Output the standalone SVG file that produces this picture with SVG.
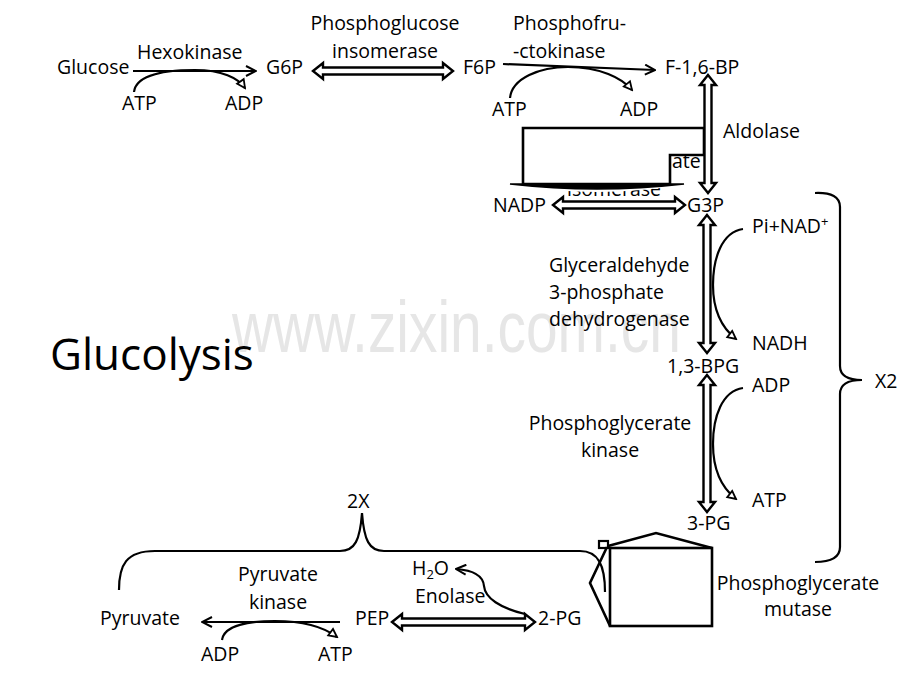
<svg xmlns="http://www.w3.org/2000/svg" width="920" height="690" viewBox="0 0 920 690">
<style>
text{font-family:"Open Sans","Liberation Sans",sans-serif;font-size:19.5px;fill:#000}
.c{text-anchor:middle}
.ln{fill:none;stroke:#000;stroke-width:2.2}
.da{fill:#fff;stroke:#000;stroke-width:2.4;stroke-linejoin:miter}
.sh{fill:#fff;stroke:#000;stroke-width:2.6}
.wm{font-family:"Liberation Sans",sans-serif;font-size:72px;fill:#e6e6e6}
</style>
<defs>
<marker id="open" viewBox="0 0 12 12" refX="11" refY="6" markerWidth="12" markerHeight="12" markerUnits="userSpaceOnUse" orient="auto">
<path d="M1,1 L11,6 L1,11" fill="none" stroke="#000" stroke-width="2"/>
</marker>
<marker id="tri" viewBox="0 0 12 12" refX="10" refY="6" markerWidth="12" markerHeight="12" markerUnits="userSpaceOnUse" orient="auto">
<path d="M2,2 L10,6 L2,10 Z" fill="#fff" stroke="#000" stroke-width="1.8"/>
</marker>
</defs>
<rect width="920" height="690" fill="#fff"/>
<text class="wm" transform="translate(232,352) scale(0.79,1)">www.zixin.com.cn</text>

<g id="title"><text x="50" y="370" style="font-size:44px">Glucolysis</text></g>

<g id="hidden-label"><text x="672" y="168">ate</text><text x="567" y="196">isomerase</text></g>
<g id="cover-box">
<polygon class="sh" points="523,128 704,128 704,155 670,155 670,184 523,184"/>
<path d="M512,185 Q597,199 682,185 Z" fill="#fff"/>
<path d="M510,184 L684,184 Q597,194 510,184 Z" fill="#000" stroke="#000" stroke-width="1.5"/>
</g>

<g id="connectors">
<path class="ln" d="M133,71 L256,71" marker-end="url(#open)"/>
<path class="ln" d="M134,92 C136,74 168,70 195,70 C222,70 238,78 245,88" marker-end="url(#tri)"/>
<polygon class="da" points="313,71 323,63 323,67.5 443,67.5 443,63 453,71 443,79 443,74.5 323,74.5 323,79"/>
<path class="ln" d="M503,64 L655,70" marker-end="url(#open)"/>
<path class="ln" d="M510,98 C512,78 540,67 568,67 C600,67 622,78 632,90" marker-end="url(#tri)"/>
<polygon class="da" points="708,75 716,85 711.5,85 711.5,183 716,183 708,193 700,183 704.5,183 704.5,85 700,85"/>
<polygon class="da" points="553,205 563,197 563,201.5 675,201.5 675,197 685,205 675,213 675,208.5 563,208.5 563,213"/>
<polygon class="da" points="707,215 715,225 710.5,225 710.5,343 715,343 707,353 699,343 703.5,343 703.5,225 699,225"/>
<path class="ln" d="M743,229 C722,232 713,258 713,285 C713,310 722,328 736,339" marker-end="url(#tri)"/>
<polygon class="da" points="707,375 715,385 710.5,385 710.5,502 715,502 707,512 699,502 703.5,502 703.5,385 699,385"/>
<path class="ln" d="M743,388 C722,391 713,417 713,444 C713,470 722,488 736,499" marker-end="url(#tri)"/>
<path class="ln" d="M815,193 Q840,192 840,207 L840,366 Q840,380 862,380 Q840,380 840,394 L840,547 Q840,562 815,562"/>
<path class="ln" d="M119,590 C119,565 126,551 155,551 L340,551 C355,551 360,540 362,513 C364,540 369,551 384,551 L580,551 C598,551 605,565 605,592"/>
<polygon class="da" points="392,622 402,614 402,618.5 525,618.5 525,614 535,622 525,630 525,625.5 402,625.5 402,630"/>
<path class="ln" d="M525,614 C500,608 485,598 484,586 C483,574 470,570 456,569" marker-end="url(#open)"/>
<path class="ln" d="M340,622 L202,622" marker-end="url(#open)"/>
<path class="ln" d="M222,640 C224,625 250,621 275,621 C305,621 325,628 337,637" marker-end="url(#tri)"/>
</g>

<g id="house">
<rect x="610" y="548" width="102" height="78" fill="#fff" stroke="#000" stroke-width="2.6"/>
<polyline class="ln" points="608,546 656,533 712,548" style="stroke-width:2.6"/>
<rect x="599" y="541" width="9" height="7" fill="none" stroke="#000" stroke-width="2.2"/>
<polyline class="ln" points="607,547 590,583 610,626" style="stroke-width:2.6"/>
</g>

<g id="n-glucose"><text x="57" y="74">Glucose</text></g>
<g id="l-hexokinase"><text x="137" y="59">Hexokinase</text></g>
<g id="n-atp1"><text x="122" y="110">ATP</text></g>
<g id="n-adp1"><text x="225" y="110">ADP</text></g>
<g id="n-g6p"><text x="266" y="74">G6P</text></g>
<g id="l-pgi"><text class="c" x="385" y="30">Phosphoglucose</text><text class="c" x="385" y="58">insomerase</text></g>
<g id="n-f6p"><text x="463" y="74">F6P</text></g>
<g id="l-pfk"><text x="513" y="30">Phosphofru-</text><text x="513" y="58">-ctokinase</text></g>
<g id="n-atp2"><text x="492" y="116">ATP</text></g>
<g id="n-adp2"><text x="620" y="116">ADP</text></g>
<g id="n-f16bp"><text x="665" y="74">F-1,6-BP</text></g>
<g id="l-aldolase"><text x="723" y="138">Aldolase</text></g>
<g id="n-nadp"><text x="493" y="212">NADP</text></g>
<g id="n-g3p"><text x="687" y="212">G3P</text></g>
<g id="n-pinad"><text x="752" y="233">Pi+NAD<tspan dy="-7" style="font-size:13px">+</tspan></text></g>
<g id="l-gapdh"><text x="549" y="272">Glyceraldehyde</text><text x="549" y="299">3-phosphate</text><text x="549" y="326">dehydrogenase</text></g>
<g id="n-nadh"><text x="752" y="350">NADH</text></g>
<g id="n-13bpg"><text x="667" y="373">1,3-BPG</text></g>
<g id="n-adp3"><text x="752" y="392">ADP</text></g>
<g id="l-pgk"><text class="c" x="610" y="430">Phosphoglycerate</text><text class="c" x="610" y="457">kinase</text></g>
<g id="n-atp3"><text x="752" y="507">ATP</text></g>
<g id="n-3pg"><text x="687" y="530">3-PG</text></g>
<g id="l-x2"><text x="875" y="388">X2</text></g>
<g id="l-pgm"><text class="c" x="798" y="590">Phosphoglycerate</text><text class="c" x="798" y="616">mutase</text></g>
<g id="l-2x"><text x="347" y="508">2X</text></g>
<g id="l-pk"><text class="c" x="278" y="581">Pyruvate</text><text class="c" x="278" y="609">kinase</text></g>
<g id="n-h2o"><text x="412" y="575">H<tspan dy="4" style="font-size:13px">2</tspan><tspan dy="-4">O</tspan></text></g>
<g id="l-enolase"><text x="415" y="603">Enolase</text></g>
<g id="n-pyruvate"><text x="100" y="625">Pyruvate</text></g>
<g id="n-pep"><text x="355" y="625">PEP</text></g>
<g id="n-2pg"><text x="538" y="625">2-PG</text></g>
<g id="n-adp4"><text x="201" y="661">ADP</text></g>
<g id="n-atp4"><text x="318" y="661">ATP</text></g>
</svg>
